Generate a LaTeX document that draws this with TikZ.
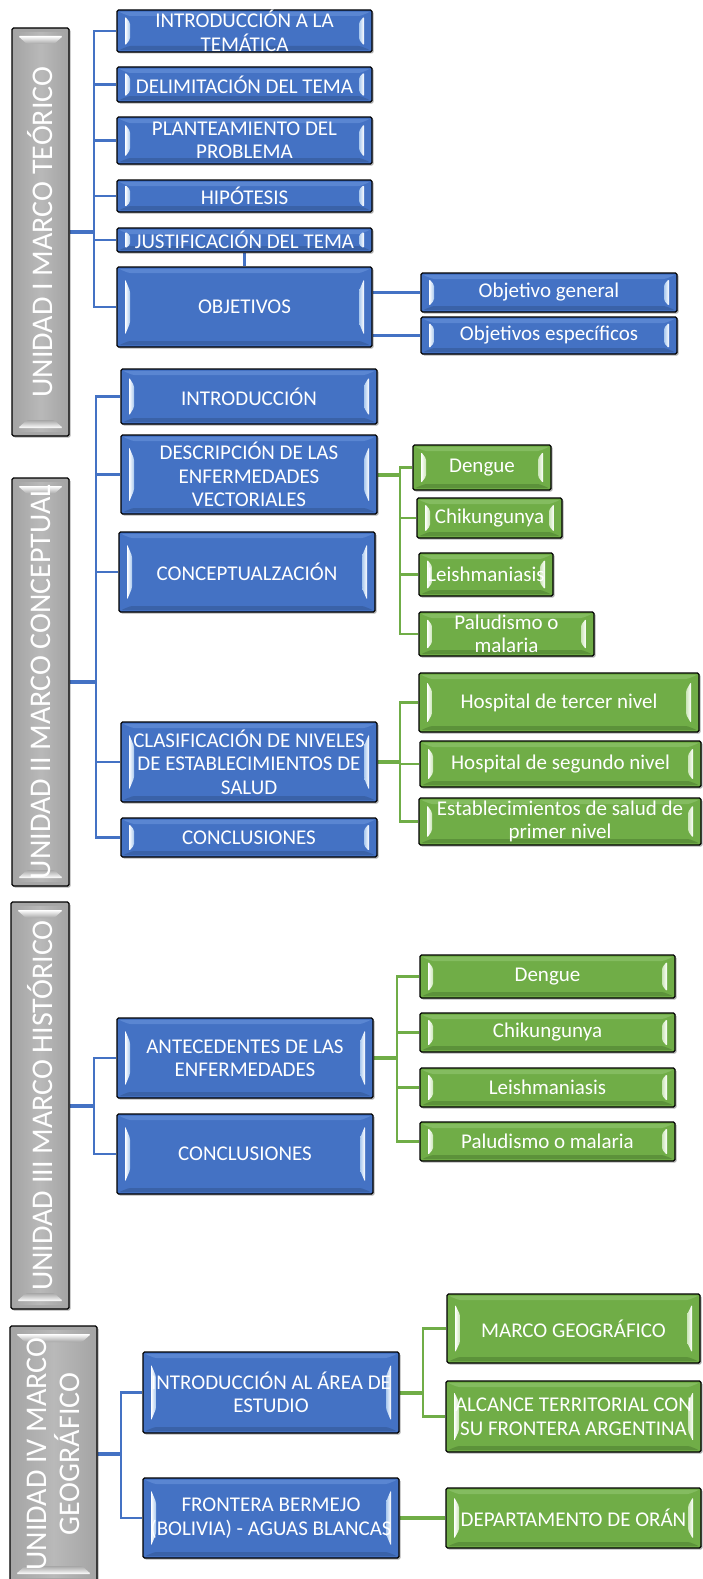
\documentclass[tikz,border=0pt]{standalone}
\usepackage{fontspec}
\setmainfont{Carlito}
\usetikzlibrary{calc,shadows}
\definecolor{bbase}{HTML}{4472C4}
\definecolor{gbase}{HTML}{70AD47}
\definecolor{bhi}{HTML}{A9C8EE}
\definecolor{ghi}{HTML}{CBE5B8}
\definecolor{btop}{HTML}{5A86D2}
\definecolor{bbot}{HTML}{3A62A8}
\definecolor{gtop}{HTML}{84BC60}
\definecolor{gbot}{HTML}{5C923A}
\definecolor{grayA}{HTML}{A6A6A6}
\pgfdeclarelayer{bg}\pgfsetlayers{bg,main}
\newcommand\mkbox[7]{\node[#1, minimum width={(#5)-(#3)}, minimum height={(#6)-(#4)}] (#2) at ({((#3)+(#5))/2},{((#4)+(#6))/2}) {#7};}
\tikzset{
 bevel/.style n args={3}{path picture={
   \path (path picture bounding box.north west) coordinate (pa)
         (path picture bounding box.north east) coordinate (pc)
         (path picture bounding box.south west) coordinate (pd)
         (path picture bounding box.south east) coordinate (pb);
   \fill[#2] ($(pa)+(2pt,-2pt)$) -- ($(pc)+(-2pt,-2pt)$) -- ($(pc)+(-12pt,-6pt)$) -- ($(pa)+(12pt,-6pt)$) -- cycle;
   \fill[#3] ($(pd)+(2pt,2pt)$) -- ($(pb)+(-2pt,2pt)$) -- ($(pb)+(-12pt,6pt)$) -- ($(pd)+(12pt,6pt)$) -- cycle;
   \shade[left color=white, right color=#1] ($(pa)!0.15!(pd)+(8pt,0)$) -- ($(pa)!0.3!(pd)+(13pt,0)$) -- ($(pa)!0.7!(pd)+(13pt,0)$) -- ($(pa)!0.85!(pd)+(8pt,0)$) -- cycle;
   \shade[left color=#1, right color=white] ($(pc)!0.15!(pb)+(-8pt,0)$) -- ($(pc)!0.3!(pb)+(-13pt,0)$) -- ($(pc)!0.7!(pb)+(-13pt,0)$) -- ($(pc)!0.85!(pb)+(-8pt,0)$) -- cycle;
 }},
 boxbase/.style={draw=black, line width=1.2pt, rounded corners=1.5pt, inner sep=0pt, align=center, text=white,
   font=\fontsize{21}{23.5}\selectfont, drop shadow={shadow xshift=1.5pt, shadow yshift=-1.5pt, opacity=.3, fill=black}},
 bluebox/.style={boxbase, fill=bbase, bevel={bhi}{btop}{bbot}},
 greenbox/.style={boxbase, fill=gbase, bevel={ghi}{gtop}{gbot}},
 graybox/.style={draw=black, line width=1.2pt, rounded corners=1.5pt, fill=grayA, inner sep=0pt,
   drop shadow={shadow xshift=1.5pt, shadow yshift=-1.5pt, opacity=.3, fill=black},
   path picture={
   \path (path picture bounding box.north west) coordinate (pa)
         (path picture bounding box.north east) coordinate (pc)
         (path picture bounding box.south west) coordinate (pd)
         (path picture bounding box.south east) coordinate (pb);
   \shade[left color=grayA, right color=grayA, middle color=gray!55] ($(pa)+(4pt,-4pt)$) rectangle ($(pb)+(-4pt,4pt)$);
   \shade[top color=white, bottom color=grayA] ($(pa)+(6pt,-8pt)$) -- ($(pc)+(-6pt,-8pt)$) -- ($(pc)+(-15pt,-16pt)$) -- ($(pa)+(15pt,-16pt)$) -- cycle;
   \shade[top color=grayA, bottom color=white] ($(pd)+(15pt,16pt)$) -- ($(pb)+(-15pt,16pt)$) -- ($(pb)+(-6pt,8pt)$) -- ($(pd)+(6pt,8pt)$) -- cycle;
   }},
 graytext/.style={text=white, font=\fontsize{30}{33}\selectfont, align=center, inner sep=0pt},
 blc/.style={draw=bbase, line width=2.2pt},
 blt/.style={draw=bbase, line width=4pt},
 grc/.style={draw=gbase, line width=2.2pt},
 grt/.style={draw=gbase, line width=4pt},
}
\begin{document}
\begin{tikzpicture}[x=1pt,y=-1pt]
\useasboundingbox (0,0) rectangle (702,1579);
\begin{pgfonlayer}{bg}
\fill[white] (0,0) rectangle (702,1579);
\end{pgfonlayer}
% ---------- Unidad I ----------
\mkbox{graybox}{g1}{12}{28}{69}{436}{}
\node[graytext, rotate=90] (g1t) at (g1.center) {UNIDAD I MARCO TEÓRICO};
\mkbox{bluebox}{i1}{117}{10}{372}{52}{INTRODUCCIÓN A LA\\TEMÁTICA}
\mkbox{bluebox}{d1}{117}{67}{372}{102}{DELIMITACIÓN DEL TEMA}
\mkbox{bluebox}{p1}{117}{117}{372}{164}{PLANTEAMIENTO DEL\\PROBLEMA}
\mkbox{bluebox}{h1}{117}{180}{372}{212}{HIPÓTESIS}
\mkbox{bluebox}{j1}{117}{228}{372}{252}{JUSTIFICACIÓN DEL TEMA}
\mkbox{bluebox}{o1}{117}{267}{372}{347}{OBJETIVOS}
\mkbox{bluebox}{og}{421}{273}{677}{312}{Objetivo general}
\mkbox{bluebox}{oe}{421}{317}{677}{354}{Objetivos específicos}
% ---------- Unidad II ----------
\mkbox{graybox}{g2}{12}{478}{69}{886}{}
\node[graytext, rotate=90] (g2t) at (g2.center) {UNIDAD II MARCO CONCEPTUAL};
\mkbox{bluebox}{i2}{121}{369}{377}{424}{INTRODUCCIÓN}
\mkbox{bluebox}{d2}{121}{435}{377}{514}{DESCRIPCIÓN DE LAS\\ENFERMEDADES\\VECTORIALES}
\mkbox{bluebox}{c2}{119}{532}{375}{612}{CONCEPTUALZACIÓN}
\mkbox{bluebox}{k2}{121}{722}{377}{802}{CLASIFICACIÓN DE NIVELES\\DE ESTABLECIMIENTOS DE\\SALUD}
\mkbox{bluebox}{n2}{121}{818}{377}{857}{CONCLUSIONES}
\mkbox{greenbox}{dg2}{413}{445}{551}{490}{Dengue}
\mkbox{greenbox}{ch2}{417}{498}{562}{538}{Chikungunya}
\mkbox{greenbox}{le2}{419}{553}{553}{596}{Leishmaniasis}
\mkbox{greenbox}{pa2}{419}{612}{594}{656}{Paludismo o\\malaria}
\mkbox{greenbox}{h32}{419}{673}{699}{732}{Hospital de tercer nivel}
\mkbox{greenbox}{h22}{420}{741}{701}{787}{Hospital de segundo nivel}
\mkbox{greenbox}{es2}{419}{798}{701}{845}{Establecimientos de salud de\\primer nivel}
% ---------- Unidad III ----------
\mkbox{graybox}{g3}{11}{902}{69}{1309}{}
\node[graytext, rotate=90] (g3t) at (g3.center) {UNIDAD III MARCO HISTÓRICO};
\mkbox{bluebox}{a3}{117}{1018}{373}{1098}{ANTECEDENTES DE LAS\\ENFERMEDADES}
\mkbox{bluebox}{n3}{117}{1114}{373}{1194}{CONCLUSIONES}
\mkbox{greenbox}{dg3}{420}{955}{675}{998}{Dengue}
\mkbox{greenbox}{ch3}{420}{1013}{675}{1052}{Chikungunya}
\mkbox{greenbox}{le3}{420}{1068}{675}{1107}{Leishmaniasis}
\mkbox{greenbox}{pa3}{420}{1122}{675}{1161}{Paludismo o malaria}
% ---------- Unidad IV ----------
\mkbox{graybox}{g4}{10}{1326}{97}{1582}{}
\node[graytext, rotate=90] (g4t) at (g4.center) {UNIDAD IV MARCO\\GEOGRÁFICO};
\mkbox{bluebox}{i4}{143}{1352}{399}{1433}{INTRODUCCIÓN AL ÁREA DE\\ESTUDIO}
\mkbox{bluebox}{f4}{143}{1478}{399}{1558}{FRONTERA BERMEJO\\(BOLIVIA) - AGUAS BLANCAS}
\mkbox{greenbox}{mg4}{447}{1294}{700}{1363}{MARCO GEOGRÁFICO}
\mkbox{greenbox}{al4}{446}{1381}{701}{1452}{ALCANCE TERRITORIAL CON\\SU FRONTERA ARGENTINA}
\mkbox{greenbox}{dp4}{446}{1488}{701}{1548}{DEPARTAMENTO DE ORÁN}
% ---------- connectors ----------
\begin{pgfonlayer}{bg}
\coordinate (t1) at ($(g1.east)+(24,0)$);
\draw[blt] (g1.east) -- (t1);
\foreach \n in {i1,d1,p1,h1,j1,o1} \draw[blc] (t1) |- (\n.west);
\draw[blc] (j1.south) -- (o1.north);
\draw[blc] (o1.east |- og.west) -- (og.west);
\draw[blc] (o1.east |- oe.west) -- (oe.west);
\coordinate (t2) at ($(g2.east)+(26,0)$);
\draw[blt] (g2.east) -- (t2);
\foreach \n in {i2,d2,c2,k2,n2} \draw[blc] (t2) |- (\n.west);
\coordinate (u2) at ($(d2.east)+(22,0)$);
\draw[grt] (d2.east) -- (u2);
\foreach \n in {dg2,ch2,le2,pa2} \draw[grc] (u2) |- (\n.west);
\coordinate (v2) at ($(k2.east)+(22,0)$);
\draw[grt] (k2.east) -- (v2);
\foreach \n in {h32,h22,es2} \draw[grc] (v2) |- (\n.west);
\coordinate (t3) at ($(g3.east)+(24,0)$);
\draw[blt] (g3.east) -- (t3);
\foreach \n in {a3,n3} \draw[blc] (t3) |- (\n.west);
\coordinate (u3) at ($(a3.east)+(23,0)$);
\draw[grt] (a3.east) -- (u3);
\foreach \n in {dg3,ch3,le3,pa3} \draw[grc] (u3) |- (\n.west);
\coordinate (t4) at ($(g4.east)+(23,0)$);
\draw[blt] (g4.east) -- (t4);
\foreach \n in {i4,f4} \draw[blc] (t4) |- (\n.west);
\coordinate (u4) at ($(i4.east)+(23,0)$);
\draw[grt] (i4.east) -- (u4);
\foreach \n in {mg4,al4} \draw[grc] (u4) |- (\n.west);
\draw[grt] (f4.east) -- (dp4.west);
\end{pgfonlayer}
\end{tikzpicture}
\end{document}
